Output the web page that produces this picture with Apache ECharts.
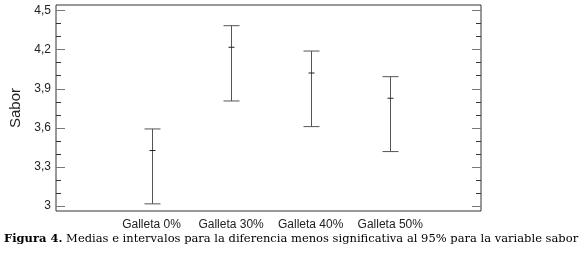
<!DOCTYPE html>
<html><head><meta charset="utf-8">
<script src="https://cdn.jsdelivr.net/npm/echarts@6/dist/echarts.min.js"></script>
<style>html,body{margin:0;padding:0;background:#fff}#c{width:580px;height:253px}</style>
</head><body><div id="c"></div>
<script>
var categories = ['Galleta 0%', 'Galleta 30%', 'Galleta 40%', 'Galleta 50%'];
var lower = [3.015, 3.806, 3.609, 3.417];
var means = [3.425, 4.219, 4.021, 3.827];
var upper = [3.591, 4.385, 4.190, 3.993];
var majorTicks = [3, 3.3, 3.6, 3.9, 4.2, 4.5];
var minorTicks = [3.1, 3.2, 3.4, 3.5, 3.7, 3.8, 4.0, 4.1, 4.3, 4.4];
var yTitle = 'Sabor';
var caption = 'Medias e intervalos para la diferencia menos significativa al 95% para la variable sabor';
var captionLabel = 'Figura 4.';

var data = categories.map(function (c, i) { return [i + 1, lower[i], means[i], upper[i]]; });
function fmt(v) { return String(+v.toFixed(1)).replace('.', ','); }

function yAx(pos, vals, len, color, labels, name) {
  return {
    type: 'value', min: 2.96, max: 4.544, position: pos,
    axisLine: { show: false, onZero: false }, splitLine: { show: false },
    axisTick: { show: true, inside: true, length: len, customValues: vals, lineStyle: { color: color, width: 1 } },
    axisLabel: labels ? { show: true, customValues: vals, formatter: fmt, margin: 5, color: '#222', fontSize: 12, fontFamily: 'Liberation Sans' } : { show: false },
    name: name || '', nameLocation: 'middle', nameGap: 33,
    nameTextStyle: { fontSize: 15, fontFamily: 'Liberation Sans', color: '#222' }
  };
}

var chart = echarts.init(document.getElementById('c'), null, { renderer: 'canvas' });
chart.setOption({
  animation: false,
  grid: { left: 54, top: 5, right: 99, bottom: 42, show: true, borderColor: '#333', borderWidth: 1, backgroundColor: 'transparent' },
  xAxis: {
    type: 'value', min: -0.2, max: 5.14,
    axisLine: { show: false, onZero: false }, axisTick: { show: false }, splitLine: { show: false },
    axisLabel: { customValues: [1, 2, 3, 4], formatter: function (v) { return categories[Math.round(v) - 1] || ''; }, color: '#222', fontSize: 12, fontFamily: 'Liberation Sans', margin: 8 }
  },
  yAxis: [
    yAx('left', majorTicks, 9, '#777', true, yTitle),
    yAx('left', minorTicks, 5, '#333', false),
    yAx('right', majorTicks, 9, '#777', false),
    yAx('right', minorTicks, 5, '#333', false)
  ],
  series: [{
    type: 'custom', yAxisIndex: 0,
    data: data,
    renderItem: function (params, api) {
      var x = api.value(0);
      var lo = api.coord([x, api.value(1)]);
      var me = api.coord([x, api.value(2)]);
      var hi = api.coord([x, api.value(3)]);
      var st = { stroke: '#555', lineWidth: 1 };
      var cx = Math.round(lo[0]) + 0.5;
      return { type: 'group', children: [
        { type: 'line', shape: { x1: cx, y1: hi[1], x2: cx, y2: lo[1] }, style: st },
        { type: 'line', shape: { x1: cx - 8, y1: hi[1], x2: cx + 8, y2: hi[1] }, style: st },
        { type: 'line', shape: { x1: cx - 8, y1: lo[1], x2: cx + 8, y2: lo[1] }, style: st },
        { type: 'line', shape: { x1: cx - 3, y1: me[1], x2: cx + 3, y2: me[1] }, style: { stroke: '#222', lineWidth: 1 } }
      ]};
    }
  }],
  graphic: [{
    type: 'text', left: 4, top: 233,
    style: {
      text: '{b|' + captionLabel + '} ' + caption,
      rich: { b: { fontWeight: 'bold', fontFamily: 'DejaVu Serif', fontSize: 11.5, fill: '#000' } },
      fontFamily: 'DejaVu Serif', fontSize: 11.5, fill: '#000'
    }
  }]
});
</script></body></html>
